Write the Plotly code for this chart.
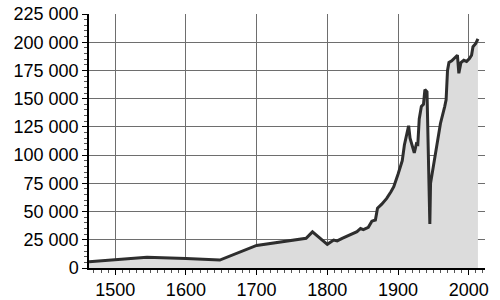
import plotly.graph_objects as go

years = [1463, 1500, 1545, 1600, 1648, 1700, 1770, 1779, 1800, 1809, 1814, 1821,
         1833, 1842, 1847, 1851, 1858, 1863, 1868, 1871, 1877, 1884, 1890, 1894,
         1900, 1903, 1906, 1909, 1913, 1915, 1917, 1921, 1923, 1926, 1928, 1930,
         1933, 1936, 1938, 1941, 1945, 1946, 1950, 1953, 1957, 1960, 1966, 1968,
         1970, 1972, 1976, 1981, 1984, 1986, 1989, 1993, 1997, 2001, 2004, 2006,
         2010, 2013]
population = [5500, 7500, 9500, 8500, 7000, 20000, 26300, 32000, 21000, 24800, 24000, 26300,
              30000, 32200, 35000, 34000, 36000, 41500, 42500, 53000, 56500, 61700, 67600, 72000,
              83000, 88500, 95000, 109000, 119000, 126000, 115000, 106000, 102000, 110000, 109500, 132000,
              143000, 145000, 158000, 156000, 39000, 75000, 91000, 102000, 120000, 128000, 143000, 149000,
              175000, 182000, 183500, 187000, 188500, 172500, 182000, 184000, 183000, 185500, 188500, 196000,
              199000, 203000]

fig = go.Figure()
fig.add_trace(go.Scatter(
    x=years, y=population, mode="lines",
    line=dict(color="#2e2e2e", width=3),
    fill="tozeroy", fillcolor="#dcdcdc",
    hoverinfo="skip",
))

fig.update_layout(
    width=500, height=300,
    margin=dict(l=89, r=15, t=14, b=32, autoexpand=False),
    paper_bgcolor="white", plot_bgcolor="white",
    showlegend=False,
    separators=". ",
    font=dict(family="Liberation Sans, Arial, sans-serif", size=18, color="black"),
)
fig.update_xaxes(
    range=[1463, 2023], tickvals=[1500, 1600, 1700, 1800, 1900, 2000],
    automargin=False,
    showgrid=True, gridcolor="#6e6e6e", gridwidth=1,
    showline=True, linecolor="black", linewidth=1.5,
    ticks="outside", ticklen=5, tickcolor="black",
    minor=dict(ticks="outside", ticklen=3, dtick=10, tickcolor="#555555", showgrid=False),
    zeroline=False,
)
fig.update_yaxes(
    range=[0, 225000], tickvals=list(range(0, 225001, 25000)), tickformat=",d",
    automargin=False,
    showgrid=True, gridcolor="#6e6e6e", gridwidth=1,
    showline=True, linecolor="black", linewidth=1.5,
    ticks="outside", ticklen=5, tickcolor="black",
    minor=dict(ticks="outside", ticklen=3, dtick=5000, tickcolor="#555555", showgrid=False),
    zeroline=False,
)

fig.write_html("out.html")
